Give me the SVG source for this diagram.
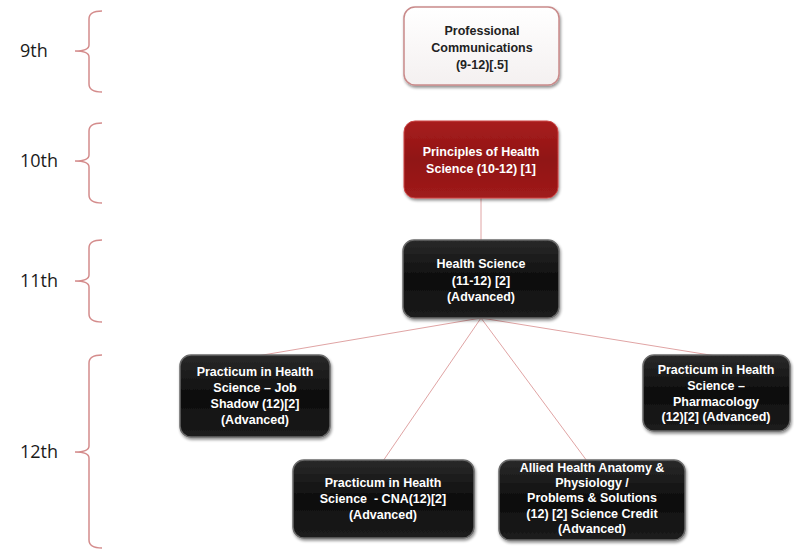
<svg xmlns="http://www.w3.org/2000/svg" width="794" height="550" viewBox="0 0 794 550">
<defs>
<linearGradient id="gDark" x1="0" y1="0" x2="0" y2="1">
<stop offset="0" stop-color="#2a2a2a"/>
<stop offset="0.5" stop-color="#0d0d0d"/>
<stop offset="1" stop-color="#1c1c1c"/>
</linearGradient>
<linearGradient id="gRed" x1="0" y1="0" x2="0" y2="1">
<stop offset="0" stop-color="#a81e1e"/>
<stop offset="0.5" stop-color="#901414"/>
<stop offset="1" stop-color="#a01b1b"/>
</linearGradient>
<linearGradient id="gWhite" x1="0" y1="0" x2="0" y2="1">
<stop offset="0" stop-color="#ffffff"/>
<stop offset="1" stop-color="#f4f0f0"/>
</linearGradient>
<filter id="sh" x="-10%" y="-10%" width="125%" height="130%">
<feGaussianBlur in="SourceAlpha" stdDeviation="1.5"/>
<feOffset dx="1" dy="2" result="b"/>
<feComponentTransfer><feFuncA type="linear" slope="0.45"/></feComponentTransfer>
<feMerge><feMergeNode/><feMergeNode in="SourceGraphic"/></feMerge>
</filter>
</defs>
<style>
.grade{font-family:"Open Sans","Liberation Sans",sans-serif;font-size:18px;fill:#1a1a1a}
.brace{fill:none;stroke:#d48c8c;stroke-width:1.5}
.conn{fill:none;stroke:#e0a4a4;stroke-width:1}
.dark{fill:url(#gDark);stroke:#6a6a6a;stroke-width:1.5}
.red{fill:url(#gRed);stroke:#c44;stroke-width:1}
.white{fill:url(#gWhite);stroke:#c98a8a;stroke-width:1.5}
.t{font-family:"Liberation Sans",Arial,sans-serif;font-size:12.5px;font-weight:bold;text-anchor:middle}
.tw{fill:#ffffff}
.tb{fill:#222222}
</style>

<g id="grades">
<text class="grade" x="20" y="57">9th</text>
<text class="grade" x="20" y="167">10th</text>
<text class="grade" x="20" y="287">11th</text>
<text class="grade" x="20" y="458">12th</text>
<path class="brace" d="M102,11 Q89,11 89,19 L89,45 Q89,51 75,51 Q89,51 89,57 L89,84 Q89,92 102,92"/>
<path class="brace" d="M102,123 Q89,123 89,131 L89,155 Q89,161 75,161 Q89,161 89,167 L89,195 Q89,203 102,203"/>
<path class="brace" d="M102,240 Q89,240 89,248 L89,275 Q89,281 75,281 Q89,281 89,287 L89,314 Q89,322 102,322"/>
<path class="brace" d="M102,355 Q89,355 89,363 L89,446 Q89,452 75,452 Q89,452 89,458 L89,540 Q89,548 102,548"/>
</g>

<g id="connectors">
<line class="conn" x1="481" y1="198" x2="481" y2="240"/>
<line class="conn" x1="481" y1="318" x2="257" y2="356"/>
<line class="conn" x1="481" y1="318" x2="716" y2="356"/>
<line class="conn" x1="481" y1="318" x2="383" y2="461"/>
<line class="conn" x1="481" y1="318" x2="587" y2="461"/>
</g>

<g id="n1">
<rect class="white" x="404" y="7" width="155" height="78" rx="11" filter="url(#sh)"/>
<text class="t tb" x="482" y="35">Professional</text>
<text class="t tb" x="482" y="52">Communications</text>
<text class="t tb" x="482" y="69">(9-12)[.5]</text>
</g>

<g id="n2">
<rect class="red" x="404" y="121" width="154" height="77" rx="11" filter="url(#sh)"/>
<text class="t tw" x="481" y="156">Principles of Health</text>
<text class="t tw" x="481" y="173">Science (10-12) [1]</text>
</g>

<g id="n3">
<rect class="dark" x="403" y="240" width="156" height="78" rx="11" filter="url(#sh)"/>
<text class="t tw" x="481" y="268">Health Science</text>
<text class="t tw" x="481" y="285">(11-12) [2]</text>
<text class="t tw" x="481" y="301">(Advanced)</text>
</g>

<g id="n4">
<rect class="dark" x="180" y="355" width="150" height="82" rx="11" filter="url(#sh)"/>
<text class="t tw" x="255" y="376">Practicum in Health</text>
<text class="t tw" x="255" y="392">Science – Job</text>
<text class="t tw" x="255" y="408">Shadow (12)[2]</text>
<text class="t tw" x="255" y="424">(Advanced)</text>
</g>

<g id="n5">
<rect class="dark" x="643" y="355" width="147" height="76" rx="11" filter="url(#sh)"/>
<text class="t tw" x="716" y="374">Practicum in Health</text>
<text class="t tw" x="716" y="390">Science –</text>
<text class="t tw" x="716" y="406">Pharmacology</text>
<text class="t tw" x="716" y="421">(12)[2] (Advanced)</text>
</g>

<g id="n6">
<rect class="dark" x="293" y="460" width="181" height="78" rx="11" filter="url(#sh)"/>
<text class="t tw" x="383" y="487">Practicum in Health</text>
<text class="t tw" x="383" y="503" xml:space="preserve">Science  - CNA(12)[2]</text>
<text class="t tw" x="383" y="519">(Advanced)</text>
</g>

<g id="n7">
<rect class="dark" x="499" y="460" width="186" height="80" rx="11" filter="url(#sh)"/>
<text class="t tw" x="592" y="472">Allied Health Anatomy &amp;</text>
<text class="t tw" x="592" y="487">Physiology /</text>
<text class="t tw" x="592" y="502">Problems &amp; Solutions</text>
<text class="t tw" x="592" y="518">(12) [2] Science Credit</text>
<text class="t tw" x="592" y="533">(Advanced)</text>
</g>
</svg>
